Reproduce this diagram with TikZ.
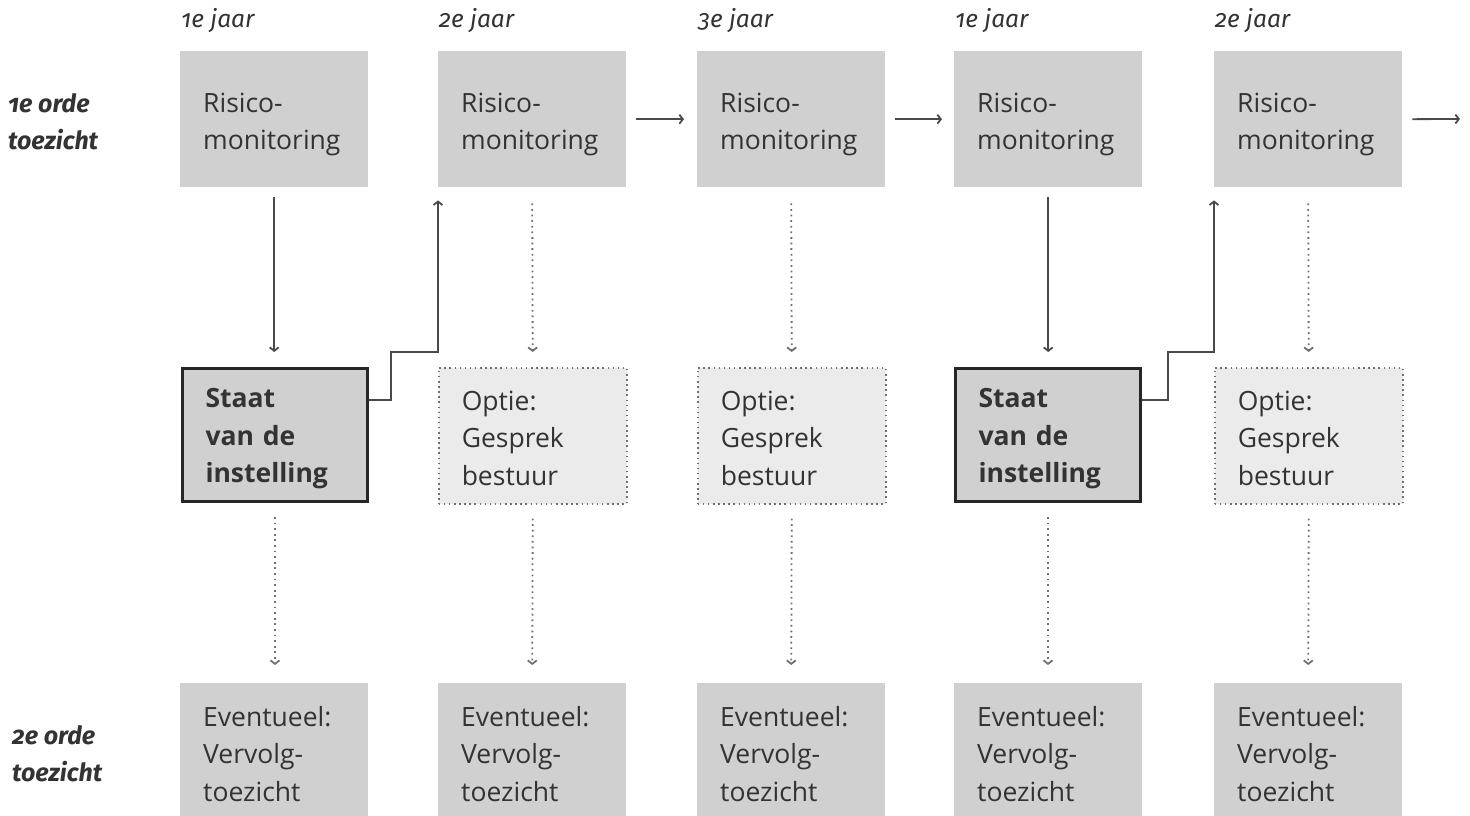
\documentclass[tikz,border=0pt]{standalone}
\usepackage{fontspec}
\setmainfont{Open Sans}
\newfontfamily\labelfont[Numbers=OldStyle]{Fira Sans}
\usetikzlibrary{arrows.meta}
\definecolor{boxgray}{HTML}{D0D0D0}
\definecolor{optgray}{HTML}{EBEBEB}
\definecolor{linegray}{HTML}{4A4A4A}
\definecolor{dotgray}{HTML}{707070}
\definecolor{txt}{HTML}{333333}
\tikzset{
  base/.style={minimum width=188pt, minimum height=136pt, inner sep=0pt, anchor=north west},
  riskbox/.style={base, fill=boxgray},
  staatbox/.style={base, minimum width=185pt, minimum height=133pt, fill=boxgray,
    draw=black!85, line width=3pt},
  optbox/.style={base, fill=optgray, draw=dotgray, line width=1.5pt,
    dash pattern=on 1.5pt off 3.6pt},
  boxtext/.style={text width=142pt, inner sep=0pt, align=left, anchor=center,
    font=\fontsize{26.5}{37.5}\selectfont, text=txt},
  staattext/.style={boxtext, font=\fontsize{26.5}{37.5}\selectfont\bfseries},
  yearlbl/.style={anchor=west, inner sep=0pt, text=txt,
    font=\labelfont\itshape\fontsize{24.5}{28}\selectfont},
  rowlbl/.style={anchor=west, align=left, inner sep=0pt, text=txt,
    font=\labelfont\bfseries\itshape\fontsize{25}{37.5}\selectfont},
  tip/.style={-{Straight Barb[length=3.5pt,width=9pt]}},
  solidarrow/.style={draw=linegray, line width=1.8pt, tip},
  dotarrow/.style={draw=dotgray, line width=1.8pt, dash pattern=on 1.8pt off 3.8pt, tip},
  connector/.style={draw=linegray, line width=1.8pt, tip},
}
\begin{document}
\begin{tikzpicture}[x=1pt,y=-1pt]
\useasboundingbox (0,0) rectangle (1470,816);

% year labels
\node[yearlbl] (y1) at (181,21) {1e jaar};
\node[yearlbl] (y2) at (439,21) {2e jaar};
\node[yearlbl] (y3) at (698,21) {3e jaar};
\node[yearlbl] (y4) at (955,21) {1e jaar};
\node[yearlbl] (y5) at (1215,21) {2e jaar};

% row labels
\node[rowlbl] (l1) at (8,121.5) {1e orde\\toezicht};
\node[rowlbl] (l2) at (12,753.5) {2e orde\\toezicht};

% top row
\node[riskbox] (r1) at (180,51) {};
\node[riskbox] (r2) at (438,51) {};
\node[riskbox] (r3) at (697,51) {};
\node[riskbox] (r4) at (954,51) {};
\node[riskbox] (r5) at (1214,51) {};
\foreach \n in {r1,r2,r3,r4,r5}
  \node[boxtext] (\n t) at ([yshift=-5.5pt]\n.center) {Risico-\\monitoring};

% middle row
\node[staatbox] (s1) at (181,367) {};
\node[optbox] (o2) at (438,367) {};
\node[optbox] (o3) at (697,367) {};
\node[staatbox] (s4) at (954,367) {};
\node[optbox] (o5) at (1214,367) {};
\foreach \n in {s1,s4}
  \node[staattext] (\n t) at ([xshift=1.5pt,yshift=-4pt]\n.center) {Staat\\van de\\instelling};
\foreach \n in {o2,o3,o5}
  \node[boxtext] (\n t) at ([yshift=-2.5pt]\n.center) {Optie:\\Gesprek\\bestuur};

% bottom row
\node[riskbox] (v1) at (180,683) {};
\node[riskbox] (v2) at (438,683) {};
\node[riskbox] (v3) at (697,683) {};
\node[riskbox] (v4) at (954,683) {};
\node[riskbox] (v5) at (1214,683) {};
\foreach \n in {v1,v2,v3,v4,v5}
  \node[boxtext] (\n t) at ([yshift=-2.5pt]\n.center) {Eventueel:\\Vervolg-\\toezicht};

% horizontal arrows
\coordinate (e5) at (1460,119);
\draw[solidarrow, shorten <=10pt, shorten >=13pt] (r2.east) -- (r3.west);
\draw[solidarrow, shorten <=10pt, shorten >=12pt] (r3.east) -- (r4.west);
\draw[solidarrow, shorten <=10pt] (r5.east) -- (e5);

% top to middle
\draw[solidarrow, shorten <=10pt, shorten >=15pt] (r1.south) -- (r1.south |- s1.north);
\draw[solidarrow, shorten <=10pt, shorten >=15pt] (r4.south) -- (r4.south |- s4.north);
\draw[dotarrow, shorten <=16pt, shorten >=15pt] (r2.south) -- (o2.north);
\draw[dotarrow, shorten <=16pt, shorten >=15pt] (r3.south) -- (o3.north);
\draw[dotarrow, shorten <=16pt, shorten >=15pt] (r5.south) -- (o5.north);

% staat connectors back up
\coordinate (k1) at (391,352);
\coordinate (k4) at (1168,352);
\draw[connector, shorten >=13pt] ([yshift=35pt]s1.east) -| (k1) -| (r2.south west);
\draw[connector, shorten >=13pt] ([yshift=35pt]s4.east) -| (k4) -| (r5.south west);

% middle to bottom
\draw[dotarrow, shorten <=14pt, shorten >=18pt] (s1.south) -- (s1.south |- v1.north);
\draw[dotarrow, shorten <=14pt, shorten >=18pt] (o2.south) -- (v2.north);
\draw[dotarrow, shorten <=14pt, shorten >=18pt] (o3.south) -- (v3.north);
\draw[dotarrow, shorten <=14pt, shorten >=18pt] (s4.south) -- (s4.south |- v4.north);
\draw[dotarrow, shorten <=14pt, shorten >=18pt] (o5.south) -- (v5.north);
\end{tikzpicture}
\end{document}
